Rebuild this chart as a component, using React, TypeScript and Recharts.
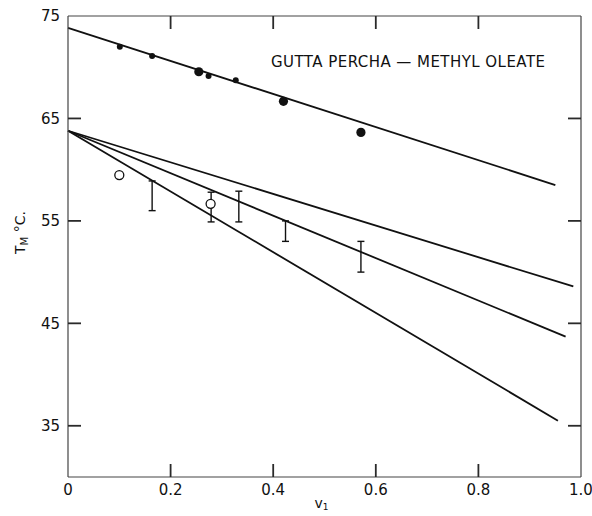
import React from 'react';
import { ComposedChart, Line, Scatter, XAxis, YAxis, ErrorBar, ReferenceLine } from 'recharts';

// Volume fraction of diluent (v1) and melting temperature (°C)
const upperLineV = [0, 0.95];
const upperLineT = [73.85, 58.5];

const lowerLinesV = [
  [0, 0.985],
  [0, 0.97],
  [0, 0.955],
];
const lowerLinesT = [
  [63.8, 48.6],
  [63.8, 43.7],
  [63.8, 35.5],
];

const filledV = [0.101, 0.164, 0.255, 0.274, 0.327, 0.42, 0.571];
const filledT = [72.0, 71.1, 69.56, 69.14, 68.72, 66.67, 63.64];
const filledLarge = [false, false, true, false, false, true, true];

const openV = [0.1, 0.278];
const openT = [59.47, 56.67];

const rangeV = [0.164, 0.279, 0.333, 0.424, 0.571];
const rangeLow = [56.0, 54.9, 54.9, 53.0, 50.0];
const rangeHigh = [58.9, 57.8, 57.9, 55.0, 53.0];

const xTicks = [0, 0.2, 0.4, 0.6, 0.8, 1.0];
const xTickLabels = ['0', '0.2', '0.4', '0.6', '0.8', '1.0'];
const yTicks = [35, 45, 55, 65, 75];
const innerXTicks = [0.2, 0.4, 0.6, 0.8];
const innerYTicks = [35, 45, 55, 65];

const title = 'GUTTA PERCHA — METHYL OLEATE';

const X_MIN = 0;
const X_MAX = 1;
const Y_MIN = 30;
const Y_MAX = 75;
const TICK_LEN = 13;

const toPoints = (vs: number[], ts: number[]) => vs.map((v, i) => ({ v, T: ts[i] }));

const upperLine = toPoints(upperLineV, upperLineT);
const lowerLines = lowerLinesV.map((vs, i) => toPoints(vs, lowerLinesT[i]));
const filledPts = filledV.map((v, i) => ({ v, T: filledT[i], big: filledLarge[i] }));
const openPts = toPoints(openV, openT);
const rangePts = rangeV.map((v, i) => ({
  v,
  T: (rangeLow[i] + rangeHigh[i]) / 2,
  err: (rangeHigh[i] - rangeLow[i]) / 2,
}));

// anchor points of the inward tick marks on all four sides of the frame
const frameTicks = [
  ...innerYTicks.map((t) => ({ v: X_MIN, T: t, dir: 'right' })),
  ...innerYTicks.map((t) => ({ v: X_MAX, T: t, dir: 'left' })),
  ...innerXTicks.map((t) => ({ v: t, T: Y_MIN, dir: 'up' })),
  ...innerXTicks.map((t) => ({ v: t, T: Y_MAX, dir: 'down' })),
];

const FONT = '"DejaVu Sans", sans-serif';
const INK = '#111';
const FRAME = '#444';

const LeftTickLabel = (props: any) => {
  const { x, y, payload } = props;
  return (
    <text x={x} y={y} dy="0.36em" textAnchor="end" fontFamily={FONT} fontSize={15} fill={INK}>
      {payload.value}
    </text>
  );
};

const BottomTickLabel = (props: any) => {
  const { x, y, payload, index } = props;
  const i = xTicks.indexOf(payload.value);
  return (
    <text x={x} y={y} dy="0.85em" textAnchor="middle" fontFamily={FONT} fontSize={15} fill={INK}>
      {xTickLabels[i >= 0 ? i : index]}
    </text>
  );
};

const TickMark = (props: any) => {
  const { cx, cy, payload } = props;
  let d;
  if (payload.dir === 'right') d = `M${cx},${cy}h13`;
  else if (payload.dir === 'left') d = `M${cx},${cy}h-13`;
  else if (payload.dir === 'up') d = `M${cx},${cy}v-13`;
  else d = `M${cx},${cy}v13`;
  return (
    <g>
      <path d={d} stroke="#2a2a2a" strokeWidth={1.8} fill="none" />
    </g>
  );
};

const FilledDot = (props: any) => {
  const { cx, cy, payload } = props;
  return <circle cx={cx} cy={cy} r={payload.big ? 4.6 : 3} fill={INK} />;
};

const OpenDot = (props: any) => {
  const { cx, cy } = props;
  return <circle cx={cx} cy={cy} r={4.5} fill="#fff" stroke={INK} strokeWidth={1.3} />;
};

const NoDot = () => <g />;

const YLabel = (props: any) => {
  const { viewBox } = props;
  const cx = viewBox.x + 25;
  const cy = viewBox.y + viewBox.height / 2 - 14;
  return (
    <text
      x={cx}
      y={cy}
      transform={`rotate(-90 ${cx} ${cy})`}
      textAnchor="middle"
      fontFamily={FONT}
      fontSize={14}
      fill={INK}
    >
      T<tspan fontSize={10} dy={3}>M</tspan>
      <tspan dy={-3}> °C.</tspan>
    </text>
  );
};

const XLabel = (props: any) => {
  const { viewBox } = props;
  const cx = viewBox.x + viewBox.width / 2 - 3;
  return (
    <text x={cx} y={viewBox.y + 31} textAnchor="middle" fontFamily={FONT} fontSize={14} fill={INK}>
      v<tspan fontSize={9} dy={2}>1</tspan>
    </text>
  );
};

export default function App() {
  return (
    <div style={{ position: 'absolute', left: 0, top: 0 }}>
      <ComposedChart width={592} height={516} margin={{ top: 16, right: 11, bottom: 0, left: 0 }}>
        <XAxis
          dataKey="v"
          type="number"
          domain={[X_MIN, X_MAX]}
          ticks={xTicks}
          height={39}
          tickSize={0}
          tickMargin={5}
          tickLine={false}
          axisLine={{ stroke: FRAME, strokeWidth: 1.2 }}
          tick={<BottomTickLabel />}
          interval={0}
          label={<XLabel />}
        />
        <YAxis
          type="number"
          domain={[Y_MIN, Y_MAX]}
          ticks={yTicks}
          width={68}
          tickSize={0}
          tickMargin={8}
          tickLine={false}
          axisLine={{ stroke: FRAME, strokeWidth: 1.2 }}
          tick={<LeftTickLabel />}
          interval={0}
          label={<YLabel />}
        />

        {/* closing frame on top and right */}
        <ReferenceLine y={Y_MAX} stroke={FRAME} strokeWidth={1.2} />
        <ReferenceLine x={X_MAX} stroke={FRAME} strokeWidth={1.2} />

        <Line
          data={upperLine}
          dataKey="T"
          stroke={INK}
          strokeWidth={1.8}
          dot={false}
          activeDot={false}
          isAnimationActive={false}
        />
        {lowerLines.map((pts, i) => (
          <Line
            key={i}
            data={pts}
            dataKey="T"
            stroke={INK}
            strokeWidth={1.8}
            dot={false}
            activeDot={false}
            isAnimationActive={false}
          />
        ))}

        <Scatter data={rangePts} dataKey="T" shape={<NoDot />} isAnimationActive={false}>
          <ErrorBar dataKey="err" direction="y" width={3.5} stroke={INK} strokeWidth={1.4} isAnimationActive={false} />
        </Scatter>
        <Scatter data={filledPts} dataKey="T" shape={<FilledDot />} isAnimationActive={false} />
        <Scatter data={openPts} dataKey="T" shape={<OpenDot />} isAnimationActive={false} />
        <Scatter data={frameTicks} dataKey="T" shape={<TickMark />} isAnimationActive={false} />

        <text
          x={271}
          y={67}
          fontFamily={FONT}
          fontSize={15}
          fill={INK}
          textLength={274}
          lengthAdjust="spacing"
        >
          {title}
        </text>
      </ComposedChart>
    </div>
  );
}
